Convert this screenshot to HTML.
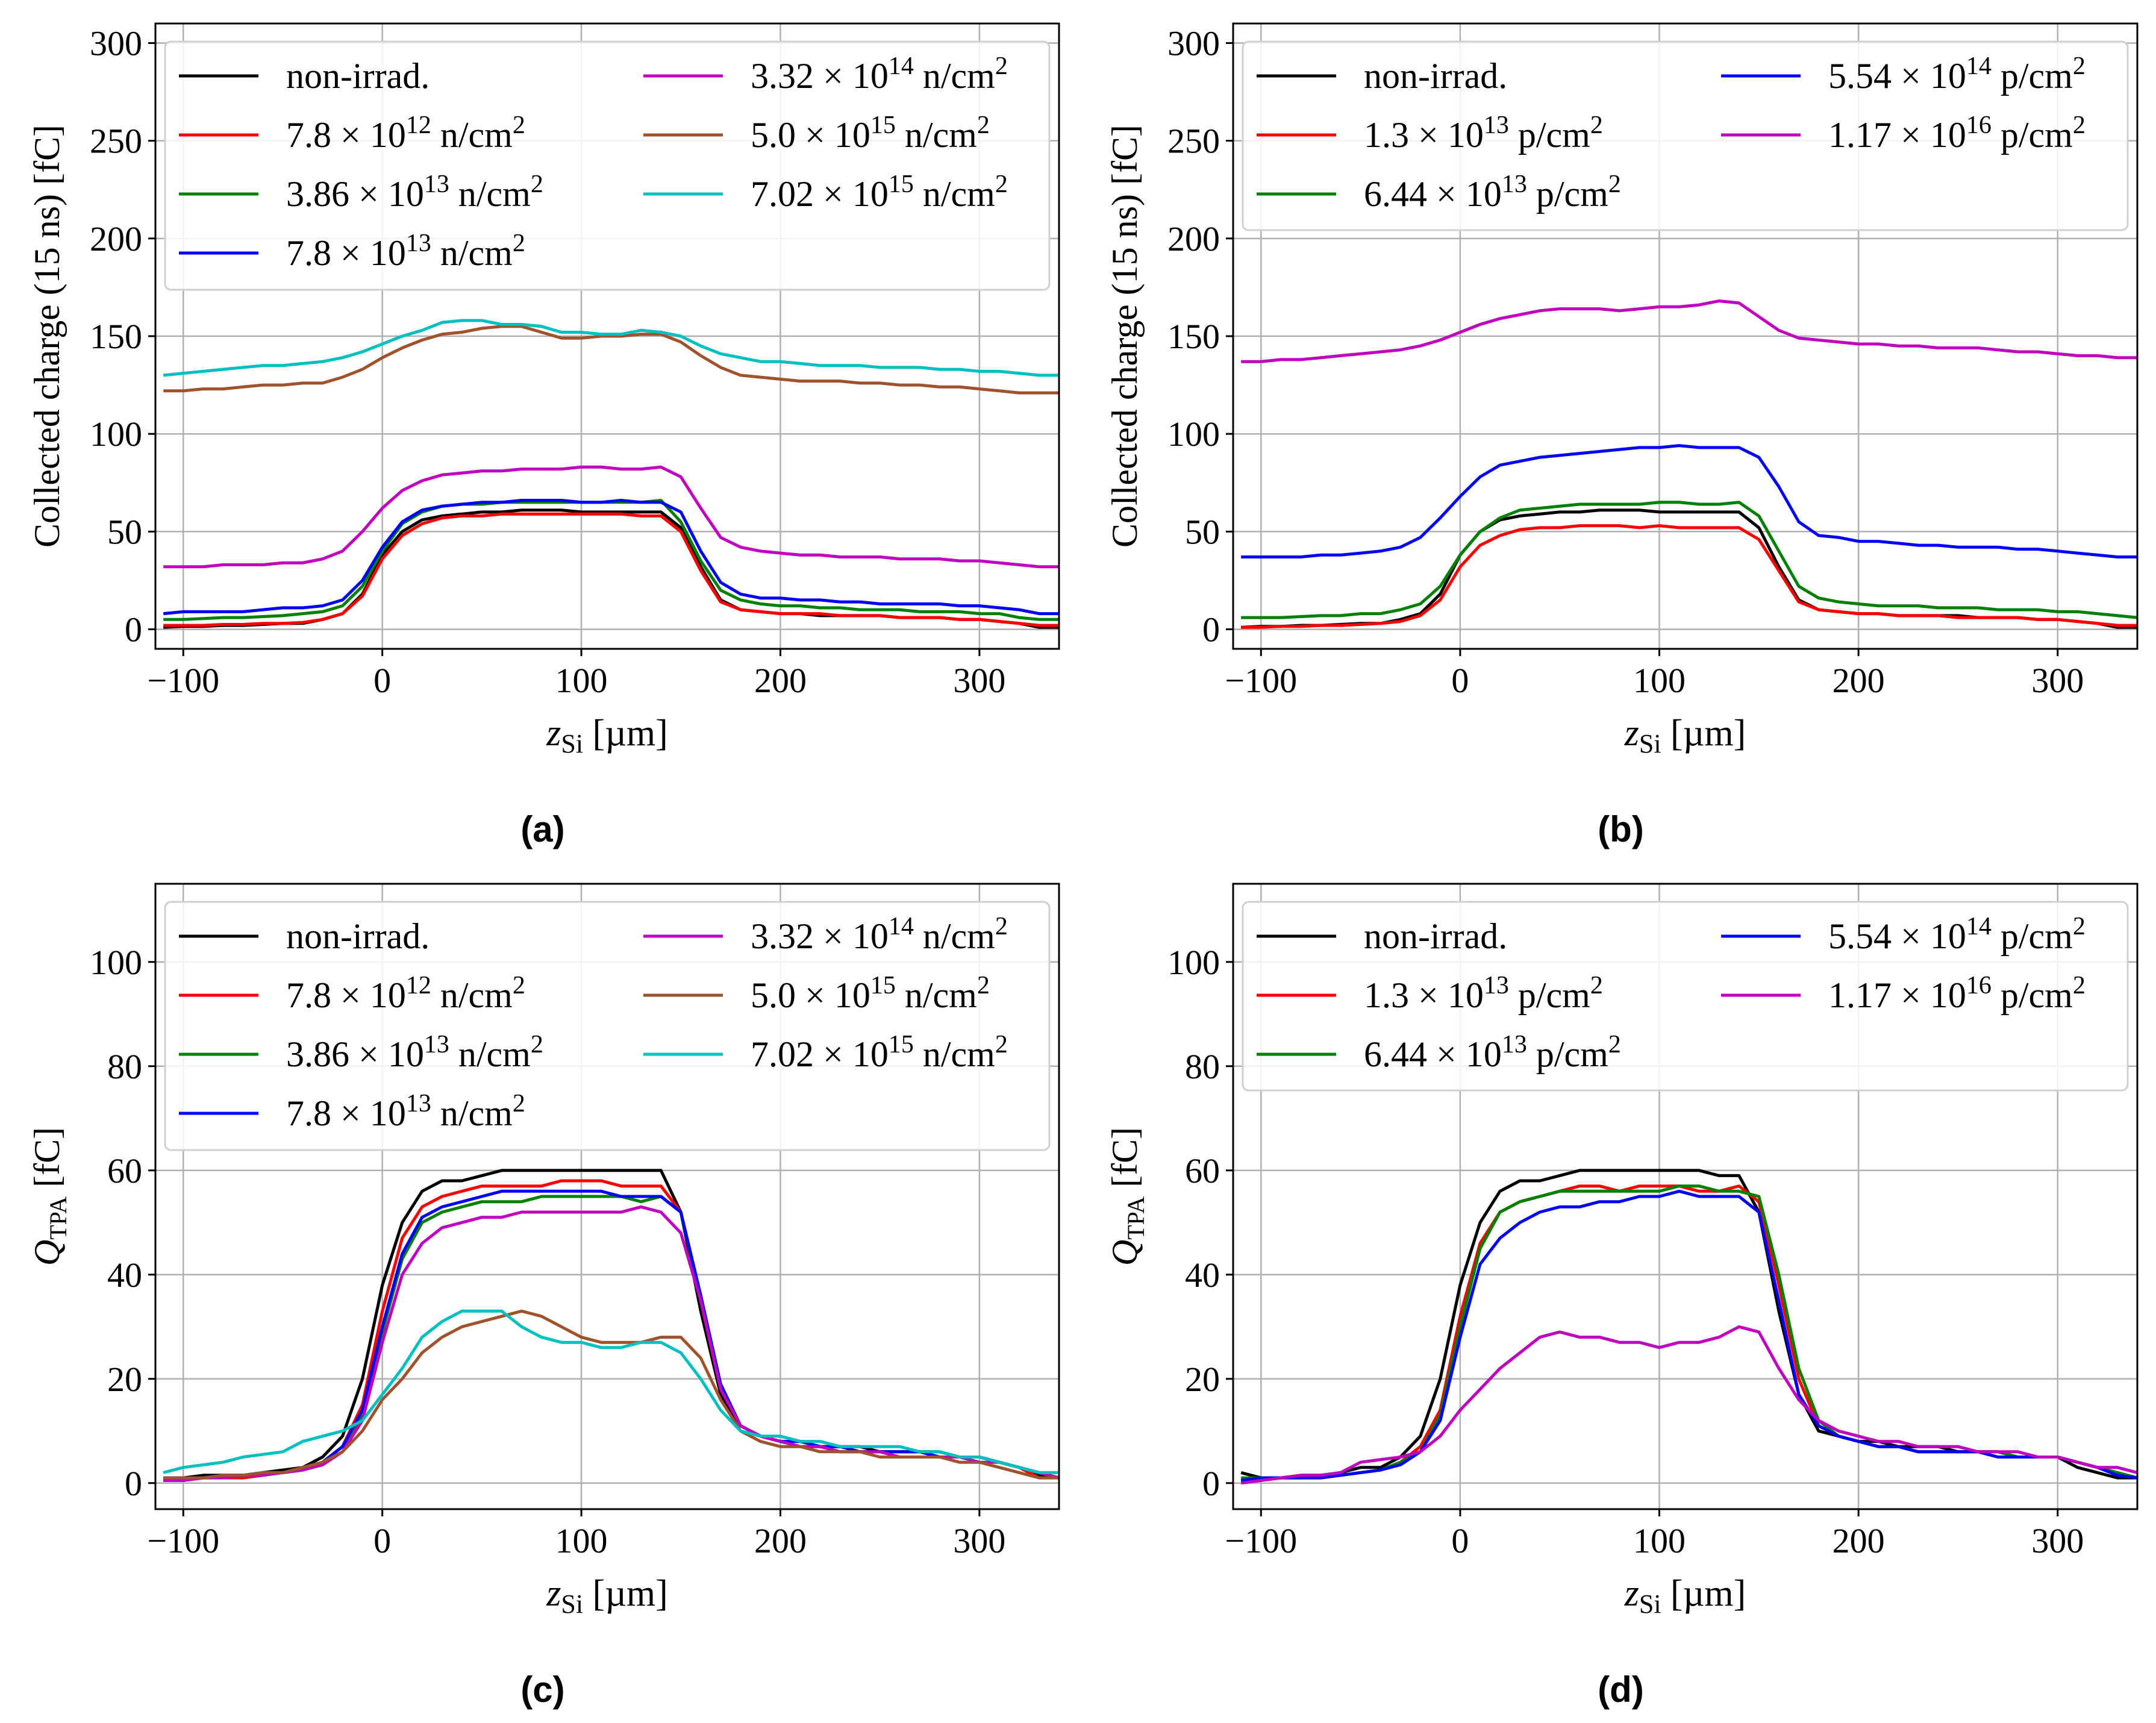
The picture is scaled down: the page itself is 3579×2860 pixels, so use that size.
<!DOCTYPE html>
<html><head><meta charset="utf-8">
<style>
html,body{margin:0;padding:0;background:#fff;}
svg text{font-family:"Liberation Serif",serif;}
</style></head>
<body>
<svg id="fig" width="3579" height="2855" viewBox="0 0 3579 2855" xmlns="http://www.w3.org/2000/svg"></svg>
<script>
const xs = [-110,-100,-90,-80,-70,-60,-50,-40,-30,-20,-10,0,10,20,30,40,50,60,70,80,90,100,110,120,130,140,150,160,170,180,190,200,210,220,230,240,250,260,270,280,290,300,310,320,330,340];

const a_black=[1,1.5,1.5,2,2,2.5,3,3,5,8,18,38,50,56,58,59,60,60,61,61,61,60,60,60,60,60,52,32,15,10,9,8,8,7,7,7,7,6,6,6,5,5,4,3,1,1];
const a_red=[2,2,2,2.5,2.5,3,3,3.5,5,8,17,36,48,54,57,58,58,59,59,59,59,59,59,59,58,58,50,30,14,10,9,8,8,8,7,7,7,6,6,6,5,5,4,3,2,2];
const a_green=[5,5,5.5,6,6,6.5,7,8,9,12,22,40,54,60,63,64,64,65,65,65,65,65,65,65,65,66,55,35,20,15,13,12,12,11,11,10,10,10,9,9,9,8,8,6,5,5];
const a_blue=[8,9,9,9,9,10,11,11,12,15,25,42,55,61,63,64,65,65,66,66,66,65,65,66,65,65,60,40,24,18,16,16,15,15,14,14,13,13,13,13,12,12,11,10,8,8];
const a_magenta=[32,32,32,33,33,33,34,34,36,40,50,62,71,76,79,80,81,81,82,82,82,83,83,82,82,83,78,62,47,42,40,39,38,38,37,37,37,36,36,36,35,35,34,33,32,32];
const a_brown=[122,122,123,123,124,125,125,126,126,129,133,139,144,148,151,152,154,155,155,152,149,149,150,150,151,151,147,140,134,130,129,128,127,127,127,126,126,125,125,124,124,123,122,121,121,121];
const a_cyan=[130,131,132,133,134,135,135,136,137,139,142,146,150,153,157,158,158,156,156,155,152,152,151,151,153,152,150,145,141,139,137,137,136,135,135,135,134,134,134,133,133,132,132,131,130,130];

const b_black=a_black;
const b_red=[1,1,1.5,1.5,2,2,2.5,3,4,7,15,32,43,48,51,52,52,53,53,53,52,53,52,52,52,52,46,30,14,10,9,8,8,7,7,7,6,6,6,6,5,5,4,3,2,2];
const b_green=[6,6,6,6.5,7,7,8,8,10,13,22,38,50,57,61,62,63,64,64,64,64,65,65,64,64,65,58,40,22,16,14,13,12,12,12,11,11,11,10,10,10,9,9,8,7,6];
const b_blue=[37,37,37,37,38,38,39,40,42,47,57,68,78,84,86,88,89,90,91,92,93,93,94,93,93,93,88,73,55,48,47,45,45,44,43,43,42,42,42,41,41,40,39,38,37,37];
const b_magenta=[137,137,138,138,139,140,141,142,143,145,148,152,156,159,161,163,164,164,164,163,164,165,165,166,168,167,160,153,149,148,147,146,146,145,145,144,144,144,143,142,142,141,140,140,139,139];

const c_black=[1,1,1.5,1.5,1.5,2,2.5,3,5,9,20,38,50,56,58,58,59,60,60,60,60,60,60,60,60,60,52,33,17,11,9,8,8,7,7,7,6,6,6,6,5,5,4,3,1.5,1];
const c_red=[0.5,0.5,1,1,1,1.5,2,2.5,4,7,15,33,47,53,55,56,57,57,57,57,58,58,58,57,57,57,52,35,18,11,9,8,8,7,7,6,6,6,6,5,5,5,4,3,1,1];
const c_green=[1,1,1,1.5,1.5,2,2,2.5,4,7,13,29,43,50,52,53,54,54,54,55,55,55,55,55,54,55,52,35,18,11,9,8,7,7,6,6,6,6,6,5,5,5,4,3,2,1];
const c_blue=[1,1,1,1.5,1.5,2,2,2.5,4,7,14,30,44,51,53,54,55,56,56,56,56,56,56,55,55,55,52,36,19,11,9,8,8,7,7,6,6,6,6,5,5,5,4,3,2,1];
const c_magenta=[0.5,0.5,1,1,1.5,1.5,2,2.5,3.5,6,12,27,40,46,49,50,51,51,52,52,52,52,52,52,53,52,48,35,18,11,9,8,7,7,6,6,6,5,5,5,5,4,4,3,2,1];
const c_brown=[1,1,1,1.5,1.5,2,2,3,4,6,10,16,20,25,28,30,31,32,33,32,30,28,27,27,27,28,28,24,16,10,8,7,7,6,6,6,5,5,5,5,4,4,3,2,1,1];
const c_cyan=[2,3,3.5,4,5,5.5,6,8,9,10,12,17,22,28,31,33,33,33,30,28,27,27,26,26,27,27,25,20,14,10,9,9,8,8,7,7,7,7,6,6,5,5,4,3,2,2];

const d_black=[2,1,1,1.5,1.5,2,3,3,5,9,20,38,50,56,58,58,59,60,60,60,60,60,60,60,59,59,52,33,17,10,9,8,8,7,7,7,6,6,6,5,5,5,3,2,1,1];
const d_red=[0.5,0.5,1,1,1,1.5,2,2.5,4,7,14,32,46,52,54,55,56,57,57,56,57,57,57,56,56,57,54,38,20,11,9,8,7,7,6,6,6,6,5,5,5,5,4,3,2,1];
const d_green=[1,1,1,1,1.5,1.5,2,2.5,4,6,13,30,45,52,54,55,56,56,56,56,56,56,57,57,56,56,55,40,22,12,9,8,7,7,6,6,6,6,6,5,5,5,4,3,2,1];
const d_blue=[0.5,1,1,1,1,1.5,2,2.5,3.5,6,12,28,42,47,50,52,53,53,54,54,55,55,56,55,55,55,52,35,17,11,9,8,7,7,6,6,6,6,5,5,5,5,4,3,1.5,1];
const d_magenta=[0,0.5,1,1.5,1.5,2,4,4.5,5,6,9,14,18,22,25,28,29,28,28,27,27,26,27,27,28,30,29,22,16,12,10,9,8,8,7,7,7,6,6,6,5,5,4,3,3,2];

const xTicks=[-100,0,100,200,300];
const yTicksTop=[0,50,100,150,200,250,300];
const yTicksBot=[0,20,40,60,80,100];

const NS="http://www.w3.org/2000/svg";
const svg=document.getElementById('fig');
function el(tag,attrs,parent){const e=document.createElementNS(NS,tag);for(const k in attrs)e.setAttribute(k,attrs[k]);(parent||svg).appendChild(e);return e;}

const COL={black:'#000',red:'#ff0000',green:'#008000',blue:'#0000ff',magenta:'#bf00bf',brown:'#a0522d',cyan:'#00bfbf'};
const E2='<tspan baseline-shift="super" font-size="42">2</tspan>';
function sci(m,e,u){return m+' × 10<tspan baseline-shift="super" font-size="42">'+e+'</tspan> '+u+'/cm'+E2;}
const legN=[['black','non-irrad.'],['red',sci('7.8','12','n')],['green',sci('3.86','13','n')],['blue',sci('7.8','13','n')],['magenta',sci('3.32','14','n')],['brown',sci('5.0','15','n')],['cyan',sci('7.02','15','n')]];
const legP=[['black','non-irrad.'],['red',sci('1.3','13','p')],['green',sci('6.44','13','p')],['blue',sci('5.54','14','p')],['magenta',sci('1.17','16','p')]];

function panel(id,L,R,T,B,ymin,ymax,yticks,series,leg,legH,ylabel,cap){
  const g=el('g',{});
  
  
  const xmin=-114,xmax=340;
  const X=v=>L+(v-xmin)/(xmax-xmin)*(R-L);
  const Y=v=>B-(v-ymin)/(ymax-ymin)*(B-T);
  xTicks.forEach(t=>{const l=el('line',{x1:X(t),x2:X(t),y1:T,y2:B,stroke:'#b0b0b0','stroke-width':2.5},g);});
  yticks.forEach(t=>{const l=el('line',{x1:L,x2:R,y1:Y(t),y2:Y(t),stroke:'#b0b0b0','stroke-width':2.5},g);});
  const clip=el('clipPath',{id:'clip'+id},g);el('rect',{x:L,y:T,width:R-L,height:B-T},clip);
  series.forEach(([c,arr])=>{
    const n=Math.min(xs.length,arr.length);
    let d='';for(let i=0;i<n;i++)d+=(i?'L':'M')+X(xs[i]).toFixed(1)+','+Y(arr[i]).toFixed(1);
    const p=el('path',{d:d,fill:'none',stroke:COL[c],'stroke-width':5,'stroke-linejoin':'round','clip-path':'url(#clip'+id+')'},g);
    
    
  });
  const f=el('rect',{x:L,y:T,width:R-L,height:B-T,fill:'none',stroke:'#000','stroke-width':3},g);
  
  xTicks.forEach(t=>{el('line',{x1:X(t),x2:X(t),y1:B,y2:B+12,stroke:'#000','stroke-width':3},g);
    const tx=el('text',{x:X(t),y:B+72,'font-size':58,'text-anchor':'middle'},g);tx.textContent=(t<0?'−':'')+Math.abs(t);
    });
  yticks.forEach(t=>{el('line',{x1:L-12,x2:L,y1:Y(t),y2:Y(t),stroke:'#000','stroke-width':3},g);
    const tx=el('text',{x:L-22,y:Y(t)+20,'font-size':58,'text-anchor':'end'},g);tx.textContent=t;
    });
  const xl=el('text',{x:(L+R)/2,y:B+160,'font-size':62,'text-anchor':'middle'},g);
  xl.innerHTML='<tspan font-style="italic">z</tspan><tspan font-size="44" dy="12">Si</tspan><tspan dy="-12"> [µm]</tspan>';
  
  const yl=el('text',{x:0,y:0,'font-size':60,'text-anchor':'middle',transform:'translate('+(L-160)+','+((T+B)/2)+') rotate(-90)'},g);
  yl.innerHTML=ylabel;
  
  const lg=el('g',{},g);
  el('rect',{x:L+16,y:T+30,width:R-L-32,height:legH,rx:10,fill:'#fff','fill-opacity':0.85,stroke:'#d0d0d0','stroke-width':3},lg);
  const rows=leg.length===7?4:3;
  leg.forEach(([c,txt],i)=>{
    const col=i<rows?0:1,row=i<rows?i:i-rows;
    const hx=L+39+col*771, yy=T+87+row*98;
    const ln=el('line',{x1:hx,x2:hx+132,y1:yy,y2:yy,stroke:COL[c],'stroke-width':5},lg);
    
    const t=el('text',{x:hx+178,y:yy+20,'font-size':60},lg);t.innerHTML=txt;
    
  });
  const cp=el('text',{x:(L+R)/2-107,y:B+320,'font-size':60,'font-weight':'bold','text-anchor':'middle'},g);
  cp.setAttribute('style','font-family:"Liberation Sans",sans-serif');
  cp.textContent=cap;
}
const ylTop='Collected charge (15 ns) [fC]';
const ylBot='<tspan font-style="italic">Q</tspan><tspan font-size="40" dy="12">TPA</tspan><tspan dy="-12"> [fC]</tspan>';
panel('a',258,1758,39,1077,-10,310,yTicksTop,[['black',a_black],['red',a_red],['green',a_green],['blue',a_blue],['magenta',a_magenta],['brown',a_brown],['cyan',a_cyan]],legN,412,ylTop,'(a)');
panel('b',2047,3548,39,1077,-10,310,yTicksTop,[['black',b_black],['red',b_red],['green',b_green],['blue',b_blue],['magenta',b_magenta]],legP,313,ylTop,'(b)');
panel('c',258,1758,1467,2505,-5,115,yTicksBot,[['black',c_black],['red',c_red],['green',c_green],['blue',c_blue],['magenta',c_magenta],['brown',c_brown],['cyan',c_cyan]],legN,412,ylBot,'(c)');
panel('d',2047,3548,1467,2505,-5,115,yTicksBot,[['black',d_black],['red',d_red],['green',d_green],['blue',d_blue],['magenta',d_magenta]],legP,313,ylBot,'(d)');
</script>
</body></html>
